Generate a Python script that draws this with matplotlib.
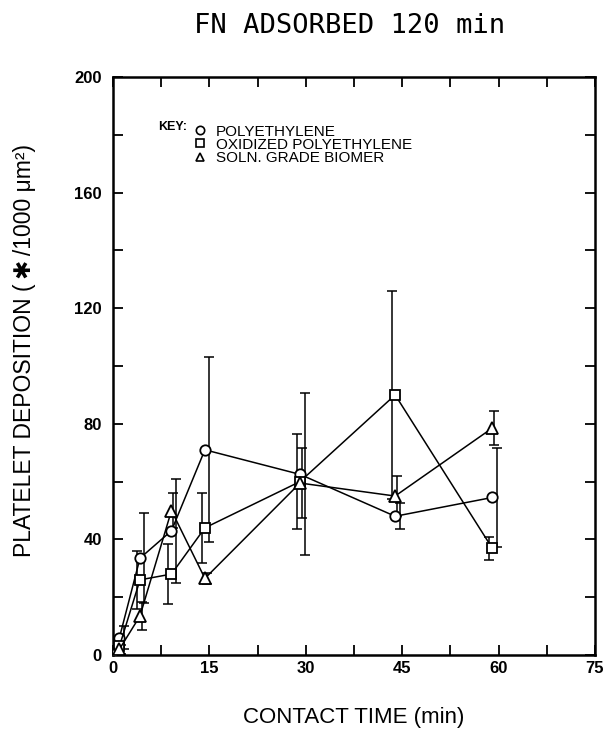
import matplotlib
matplotlib.use('Agg')
import matplotlib.pyplot as plt
from matplotlib.lines import Line2D

# contact time (min)
times = [0.2, 1.0, 4.2, 9.1, 14.3, 29.1, 43.9, 59.0]

pe = [0.5, 6, 33.5, 43, 71, 62.5, 48, 54.5]
pe_err = [0.5, 4, 15.5, 18, 32, 28, 4.5, 17]

ox_pe = [0.5, 3, 26, 28, 44, 60, 90, 37]
ox_pe_err = [0.5, 2, 10, 10.5, 12, 16.5, 36, 4]

biomer = [0.5, 2, 13.5, 50, 26.5, 59.5, 55, 78.5]
biomer_err = [0.5, 1.5, 5, 6, 2, 12, 7, 6]

names = ['POLYETHYLENE', 'OXIDIZED POLYETHYLENE', 'SOLN. GRADE BIOMER']

x_ticks = [0, 15, 30, 45, 60, 75]
y_ticks = [0, 40, 80, 120, 160, 200]

plt.rcParams['font.family'] = ['Liberation Sans', 'DejaVu Sans']

fig = plt.figure(figsize=(6.05, 7.31), dpi=100)
ax = fig.add_axes([113 / 605, 76 / 731, 482 / 605, 578 / 731])

# (values, errors, marker, marker size, x shift of the error bar)
series = [(pe, pe_err, 'o', 7.5, 0.7), (ox_pe, ox_pe_err, 's', 7, -0.5),
          (biomer, biomer_err, '^', 9, 0.3)]
for vals, errs, mk, ms, dx in series:
    ax.errorbar([t + dx for t in times], vals, yerr=errs, fmt='none', ecolor='black',
                elinewidth=1.1, capsize=3.8, capthick=1.1, zorder=2)
    ax.plot(times, vals, color='black', lw=1.1, marker=mk, markersize=ms,
            markerfacecolor='white', markeredgecolor='black', markeredgewidth=1.3, zorder=3)

ax.set_xlim(0, 75)
ax.set_ylim(0, 200)
ax.set_xticks(x_ticks)
ax.set_yticks(y_ticks)
ax.set_xticks([7.5 * i for i in range(11)], minor=True)
ax.set_yticks(list(range(0, 201, 20)), minor=True)
ax.tick_params(which='both', direction='in', length=7, width=1.3,
               top=True, right=True, labelsize=12)
ax.tick_params(axis='x', pad=4)
ax.tick_params(axis='y', pad=8)
for lab in ax.get_xticklabels() + ax.get_yticklabels():
    lab.set_fontweight('bold')
for s in ax.spines.values():
    s.set_linewidth(1.8)

handles = [Line2D([], [], ls='none', marker=m, markersize=6, markerfacecolor='white',
                  markeredgecolor='black', markeredgewidth=1.2) for m in ['o', 's', '^']]
ax.legend(handles, names, loc='upper left', bbox_to_anchor=(0.153, 0.931), frameon=False,
          handlelength=0.8, handletextpad=0.6, labelspacing=-0.05, borderpad=0,
          fontsize=11)
ax.text(0.094, 0.913, 'KEY:', transform=ax.transAxes, fontsize=9, fontweight='bold',
        va='center', ha='left')

fig.text(0.578, 0.965, 'FN ADSORBED 120 min', family='DejaVu Sans Mono', fontsize=19.5,
         ha='center', va='center')
fig.text(0.585, 0.018, 'CONTACT TIME (min)', fontsize=16, ha='center', va='center')
fig.text(0.04, 0.52, 'PLATELET DEPOSITION (\u2009✱\u2009/1000 μm²)', fontsize=16.5,
         rotation=90, ha='center', va='center')

fig.savefig('out.png', dpi=100)
